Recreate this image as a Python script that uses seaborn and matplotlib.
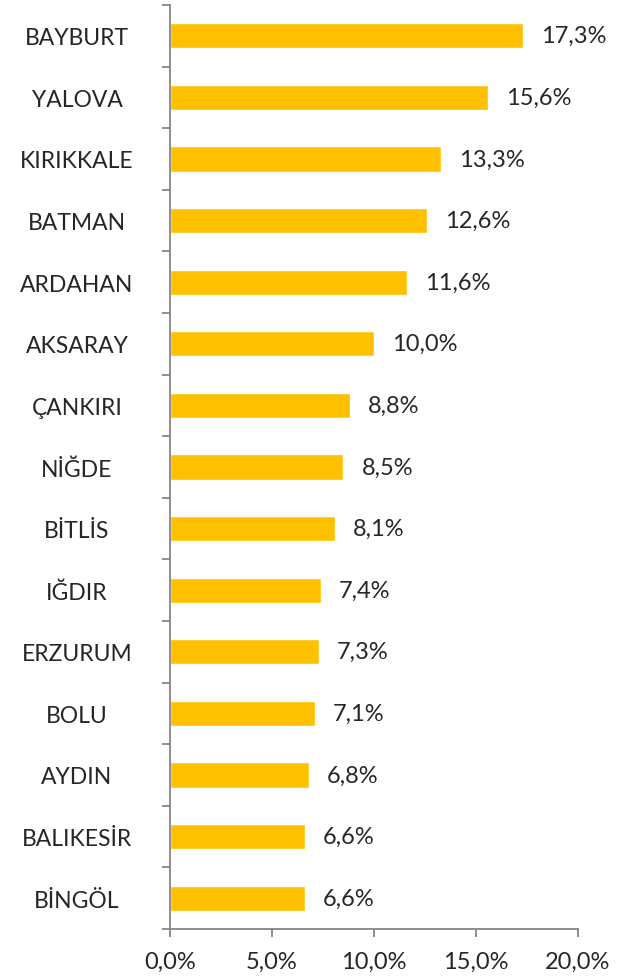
import matplotlib
matplotlib.use("Agg")
import matplotlib.pyplot as plt
import seaborn as sns
import pandas as pd

# Data
provinces = ['BAYBURT', 'YALOVA', 'KIRIKKALE', 'BATMAN', 'ARDAHAN', 'AKSARAY',
             'ÇANKIRI', 'NİĞDE', 'BİTLİS', 'IĞDIR', 'ERZURUM', 'BOLU', 'AYDIN',
             'BALIKESİR', 'BİNGÖL']
shares = [17.3, 15.6, 13.3, 12.6, 11.6, 10.0, 8.8, 8.5, 8.1, 7.4, 7.3, 7.1, 6.8, 6.6, 6.6]
x_ticks = [0, 5, 10, 15, 20]

df = pd.DataFrame({'province': provinces, 'share': shares})

sns.set_style("white")
plt.rcParams['font.family'] = ['Lato', 'DejaVu Sans']

fig = plt.figure(figsize=(6.24, 9.79), dpi=100)
ax = fig.add_axes([170 / 624, 1 - 930 / 979, 408 / 624, 924 / 979])

sns.barplot(data=df, x='share', y='province', color='#FFC000', saturation=1,
            width=0.41, ax=ax)

axis_color = '#868686'
fs = 17

ax.set_xlim(0, 20)
ax.set_ylim(len(provinces) - 0.5, -0.5)
ax.set_xticks(x_ticks)
ax.set_xticklabels([f"{t:.1f}%".replace('.', ',') for t in x_ticks], fontsize=fs)
ax.set_xlabel('')
ax.set_ylabel('')

# category labels centred in the label area, ticks at category boundaries
ax.set_yticks(range(len(provinces)))
ax.set_yticklabels(provinces, fontsize=16.5, ha='center')
ax.tick_params(axis='y', which='major', left=True, length=0, pad=67)
ax.set_yticks([i - 0.5 for i in range(len(provinces) + 1)], minor=True)
ax.tick_params(axis='y', which='minor', left=True, length=6, width=1.3,
               color=axis_color, direction='out')
ax.tick_params(axis='x', bottom=True, length=6, width=1.3, color=axis_color,
               direction='out', pad=10)

for side in ['top', 'right']:
    ax.spines[side].set_visible(False)
for side in ['left', 'bottom']:
    ax.spines[side].set_color(axis_color)
    ax.spines[side].set_linewidth(1.3)

for i, v in enumerate(shares):
    ax.annotate(f"{v:.1f}%".replace('.', ','), xy=(v, i), xytext=(13, 0),
                textcoords='offset points', va='center', ha='left', fontsize=fs)

fig.savefig('out.png', dpi=100)
